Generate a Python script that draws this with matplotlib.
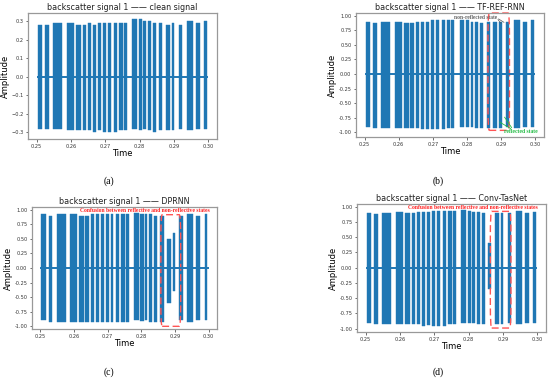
import matplotlib
matplotlib.use('Agg')
import matplotlib.pyplot as plt
from matplotlib.patches import FancyBboxPatch
import numpy as np

# burst intervals (s), shared by the four panels
burst_start = [0.2503, 0.2525, 0.2549, 0.2588, 0.2616, 0.2634, 0.2650, 0.2665, 0.2680,
               0.2694, 0.2709, 0.2726, 0.2741, 0.2754, 0.2779, 0.2797, 0.2810, 0.2824,
               0.2839, 0.2857, 0.2876, 0.2893, 0.2913, 0.2937, 0.2963, 0.2988]
burst_end = [0.2516, 0.2535, 0.2575, 0.2609, 0.2630, 0.2644, 0.2659, 0.2674, 0.2688,
             0.2703, 0.2717, 0.2735, 0.2750, 0.2763, 0.2792, 0.2807, 0.2817, 0.2832,
             0.2848, 0.2866, 0.2887, 0.2901, 0.2923, 0.2955, 0.2975, 0.2996]

# clean signal amplitudes
a_hi = [0.28, 0.28, 0.29, 0.29, 0.28, 0.28, 0.29, 0.28, 0.29, 0.29, 0.29, 0.29, 0.29, 0.29,
        0.31, 0.31, 0.30, 0.30, 0.29, 0.29, 0.28, 0.29, 0.28, 0.30, 0.29, 0.30]
a_lo = [-0.28, -0.28, -0.28, -0.29, -0.29, -0.29, -0.29, -0.30, -0.29, -0.30, -0.30, -0.30, -0.29, -0.29,
        -0.28, -0.29, -0.28, -0.29, -0.30, -0.29, -0.29, -0.29, -0.28, -0.29, -0.28, -0.28]
# TF-REF-RNN
b_hi = [0.90, 0.88, 0.90, 0.90, 0.88, 0.88, 0.90, 0.90, 0.90, 0.92, 0.92, 0.92, 0.92, 0.92,
        0.93, 0.93, 0.90, 0.90, 0.88, 0.90, 0.90, 0.90, 0.90, 0.93, 0.90, 0.92]
b_lo = [-0.90, -0.92, -0.92, -0.93, -0.93, -0.92, -0.93, -0.95, -0.94, -0.95, -0.95, -0.95, -0.93, -0.92,
        -0.90, -0.91, -0.90, -0.92, -0.93, -0.92, -0.92, -0.92, -0.90, -0.92, -0.90, -0.90]
# DPRNN
c_hi = [0.93, 0.90, 0.93, 0.92, 0.90, 0.90, 0.92, 0.92, 0.92, 0.93, 0.93, 0.93, 0.93, 0.93,
        0.95, 0.93, 0.92, 0.92, 0.90, 0.90, 0.50, 0.60, 0.90, 0.93, 0.90, 0.92]
c_lo = [-0.90, -0.92, -0.92, -0.93, -0.93, -0.92, -0.93, -0.93, -0.93, -0.93, -0.93, -0.93, -0.92, -0.92,
        -0.90, -0.91, -0.90, -0.92, -0.93, -0.92, -0.60, -0.40, -0.90, -0.92, -0.90, -0.90]
# Conv-TasNet
d_hi = [0.90, 0.88, 0.90, 0.92, 0.90, 0.90, 0.92, 0.92, 0.92, 0.93, 0.93, 0.93, 0.93, 0.93,
        0.95, 0.93, 0.92, 0.92, 0.90, 0.40, 0.90, 0.90, 0.90, 0.93, 0.90, 0.92]
d_lo = [-0.90, -0.92, -0.92, -0.93, -0.93, -0.92, -0.93, -0.95, -0.94, -0.95, -0.95, -0.95, -0.93, -0.92,
        -0.90, -0.91, -0.90, -0.92, -0.93, -0.35, -0.92, -0.92, -0.90, -0.92, -0.90, -0.90]

titles = ['backscatter signal 1 \u2014\u2014 clean signal',
          'backscatter signal 1 \u2014\u2014 TF-REF-RNN',
          'backscatter signal 1 \u2014\u2014 DPRNN',
          'backscatter signal 1 \u2014\u2014 Conv-TasNet']
letters = ['(a)', '(b)', '(c)', '(d)']
x_ticks = [0.25, 0.26, 0.27, 0.28, 0.29, 0.30]

W, H = 550, 382
fig = plt.figure(figsize=(W/100, H/100), dpi=100)

def px(l, t, r, b):
    return [l/W, 1-b/H, (r-l)/W, (b-t)/H]

rects = [px(28, 13, 217, 139), px(356, 13, 544, 137), px(32, 207, 217, 329), px(357, 204, 546, 332)]
ylims = [(-0.336, 0.343), (-1.08, 1.046), (-1.046, 1.046), (-1.055, 1.044)]
his = [a_hi, b_hi, c_hi, d_hi]
los = [a_lo, b_lo, c_lo, d_lo]
blue = '#1f77b4'

axes = []
for i in range(4):
    ax = fig.add_axes(rects[i])
    s = np.array(burst_start); e = np.array(burst_end)
    hi = np.array(his[i]); lo = np.array(los[i])
    ax.plot([0.25, 0.30], [0, 0], color=blue, lw=1.4, solid_capstyle='butt')
    ax.bar(s, hi - lo, width=e - s, bottom=lo, align='edge', color=blue,
           edgecolor=blue, linewidth=0.3)
    ax.set_xlim(0.2475, 0.3025)
    ax.set_ylim(*ylims[i])
    ax.set_xticks(x_ticks)
    if i == 0:
        ax.set_yticks([-0.3, -0.2, -0.1, 0.0, 0.1, 0.2, 0.3])
    else:
        ax.set_yticks([-1.0, -0.75, -0.5, -0.25, 0.0, 0.25, 0.5, 0.75, 1.0])
        ax.yaxis.set_major_formatter(matplotlib.ticker.FormatStrFormatter('%.2f'))
    ax.tick_params(labelsize=3.6, length=1.8, width=0.5, pad=1.5, colors='#333333')
    for sp in ax.spines.values():
        sp.set_color('#999999'); sp.set_linewidth(0.9)
    ax.set_title(titles[i], fontsize=5.8, pad=2, color='#222222')
    ax.set_xlabel('Time', fontsize=6, labelpad=0.5)
    ax.set_ylabel('Amplitude', fontsize=6, labelpad=1)
    axes.append(ax)

fig.text(0.198, 1-181/H, letters[0], family='Liberation Serif', fontsize=7, ha='center', va='center')
fig.text(0.797, 1-181/H, letters[1], family='Liberation Serif', fontsize=7, ha='center', va='center')
fig.text(0.198, 1-372/H, letters[2], family='Liberation Serif', fontsize=7, ha='center', va='center')
fig.text(0.797, 1-372/H, letters[3], family='Liberation Serif', fontsize=7, ha='center', va='center')

box_red = '#ff5555'
def box(ax, x0, x1, y0, y1):
    p = FancyBboxPatch((x0, y0), x1 - x0, y1 - y0, boxstyle='round,pad=0,rounding_size=0.0004',
                       fill=False, edgecolor=box_red, lw=1.0, linestyle=(0, (5, 2.5)),
                       clip_on=False, mutation_aspect=1000)
    ax.add_patch(p)

# (b) annotations
ax = axes[1]
box(ax, 0.2861, 0.2924, -0.966, 1.046)
ax.text(0.2825, 0.97, 'non-reflected state', family='Liberation Serif', fontsize=4.0,
        color='#666666', fontweight='bold', ha='center', va='center')
for tx in [(0.2915, 0.86), (0.2905, 0.83)]:
    ax.annotate('', xy=tx, xytext=(0.2885, 0.97),
                arrowprops=dict(arrowstyle='-', color='#555555', lw=0.5))
ax.text(0.2957, -0.98, 'reflected state', family='Liberation Serif', fontsize=4.1,
        color='#22bb44', fontweight='bold', ha='center', va='center')
for tx in [(0.2888, -0.80), (0.2905, -0.70)]:
    ax.annotate('', xy=tx, xytext=(0.2935, -0.96),
                arrowprops=dict(arrowstyle='-', color='#22bb44', lw=0.6))

# (c) and (d) annotations
for ax, (x0, x1, y0, y1) in [(axes[2], (0.2858, 0.2917, -1.0, 0.914)),
                             (axes[3], (0.2863, 0.2923, -0.99, 0.923))]:
    box(ax, x0, x1, y0, y1)
    ax.text(0.2812, 0.985, 'Confusion between reflective and non-reflective states',
            family='Liberation Serif', fontsize=4.1, color='#ff2222', fontweight='bold',
            ha='center', va='center')

fig.savefig('out.png', dpi=100)
